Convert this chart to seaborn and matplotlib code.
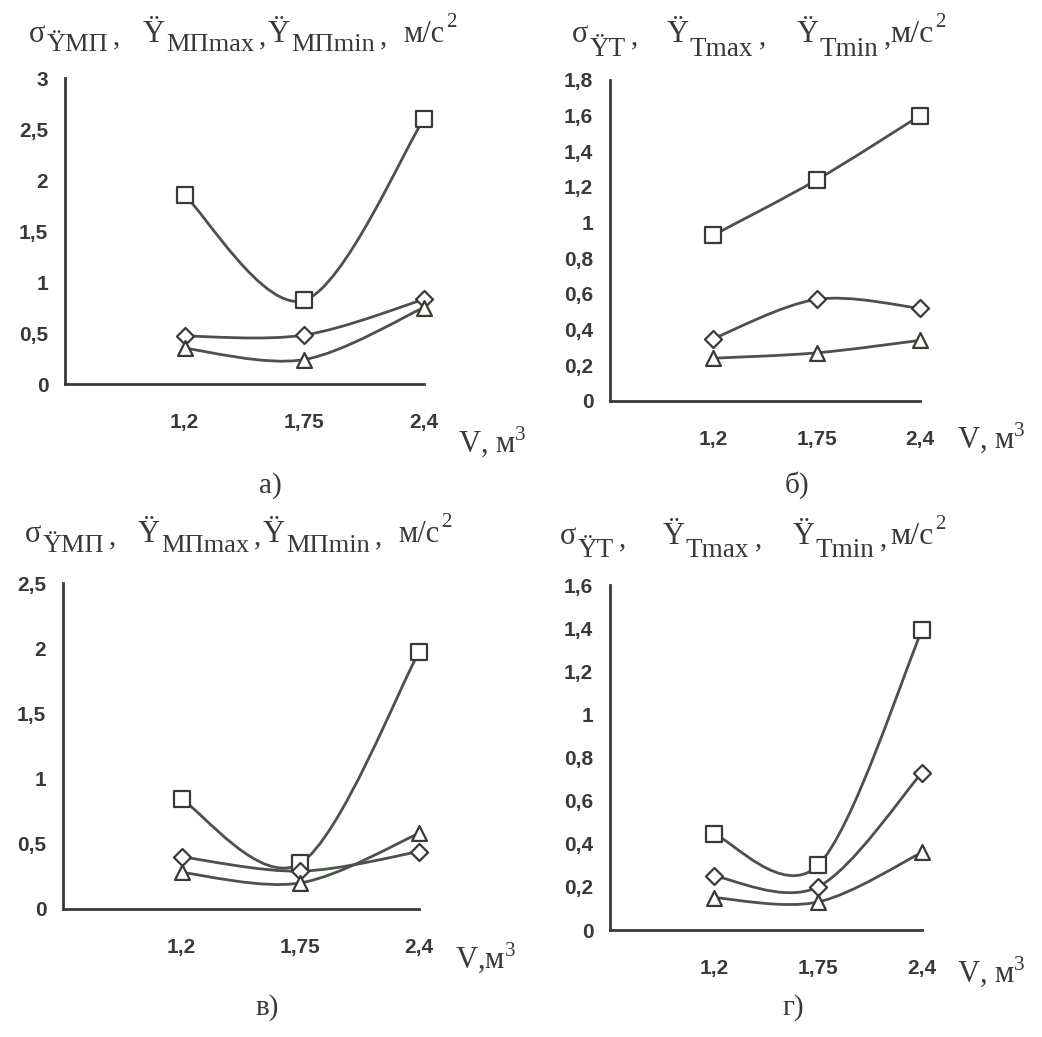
import numpy as np
import matplotlib
matplotlib.use('Agg')
import matplotlib.pyplot as plt
from matplotlib.path import Path
from matplotlib.patches import PathPatch
import seaborn as sns

sns.set_theme(style='white')
plt.rcParams['font.family'] = ['Liberation Sans', 'DejaVu Sans']
plt.rcParams['mathtext.fontset'] = 'custom'
plt.rcParams['mathtext.rm'] = 'Liberation Serif'

# V, m^3 categories (equally spaced on the chart)
volumes = ['1,2', '1,75', '2,4']

# panel a) - МП, max / sigma / min
a_max = [1.85, 0.82, 2.60]
a_sigma = [0.47, 0.48, 0.83]
a_min = [0.35, 0.24, 0.75]

# panel б) - T
b_max = [0.93, 1.24, 1.60]
b_sigma = [0.35, 0.57, 0.52]
b_min = [0.24, 0.27, 0.34]

# panel в) - МП
v_max = [0.84, 0.35, 1.97]
v_sigma = [0.40, 0.29, 0.44]
v_min = [0.28, 0.20, 0.58]

# panel г) - T
g_max = [0.445, 0.30, 1.39]
g_sigma = [0.25, 0.20, 0.73]
g_min = [0.15, 0.13, 0.36]

ink = '#363b34'
line_col = '#4b5249'
serif = 'Liberation Serif'

W, H = 1042, 1037


def fx(px):
    return px / W


def fy(py):
    return 1 - py / H


def smooth_path(xs, ys):
    # excel-style smoothed line: bezier segments through the points
    pts = np.column_stack([xs, ys]).astype(float)
    ext = np.vstack([pts[0], pts, pts[-1]])
    verts = [pts[0]]
    codes = [Path.MOVETO]
    for i in range(len(pts) - 1):
        p0, p1, p2, p3 = ext[i], ext[i + 1], ext[i + 2], ext[i + 3]
        verts += [p1 + (p2 - p0) / 6, p2 - (p3 - p1) / 6, p2]
        codes += [Path.CURVE4] * 3
    return Path(verts, codes)


def fmt(v):
    return f'{v:g}'.replace('.', ',')


def draw_panel(ax, series, ymax, ystep):
    pos = np.arange(1, len(volumes) + 1)
    for vals, marker, size in series:
        ax.add_patch(PathPatch(smooth_path(pos, vals), fill=False,
                               edgecolor=line_col, lw=2.0, zorder=2))
        sns.scatterplot(x=pos, y=vals, marker=marker, s=size, color='white',
                        edgecolor=ink, linewidth=1.6, zorder=3, clip_on=False,
                        ax=ax)
    ax.set_xlim(0, 3)
    ax.set_ylim(0, ymax)
    ax.set_xticks(np.arange(0, 4))
    ax.set_xticklabels([''] + volumes)
    yt = np.arange(0, ymax + ystep / 2, ystep)
    ax.set_yticks(yt)
    ax.set_yticklabels([fmt(round(v, 2)) for v in yt])
    for s in ['top', 'right']:
        ax.spines[s].set_visible(False)
    for s in ['left', 'bottom']:
        ax.spines[s].set_color(ink)
        ax.spines[s].set_linewidth(2.0)
    ax.tick_params(axis='x', direction='out', length=6, width=1.6, color=ink,
                   pad=15, labelsize=15, labelcolor=ink)
    ax.tick_params(axis='y', direction='out', length=4, width=1.4, color=ink,
                   pad=8, labelsize=15, labelcolor=ink)
    for lab in ax.get_xticklabels() + ax.get_yticklabels():
        lab.set_fontweight('bold')
    ax.set_facecolor('none')


fig = plt.figure(figsize=(W / 100, H / 100), dpi=100)
fig.patch.set_facecolor('white')
renderer = fig.canvas.get_renderer()


def put_text(x, base, txt, size):
    t = fig.text(fx(x), fy(base), txt, fontsize=size, va='baseline',
                 family=serif, color=ink)
    return t.get_window_extent(renderer).x1


def put_title(starts, base, sub_drop, subs, sub_size, unit_size=22):
    # main glyphs at their own x, subscript and comma chained right after
    mains = ['σ', 'Ÿ', 'Ÿ']
    for main, x0, sub in zip(mains, starts[:3], subs):
        x = put_text(x0, base, main, 22)
        x = put_text(x + 1, base + sub_drop, sub, sub_size)
        put_text(x + 5, base + 2, ',', 21)
    x = put_text(starts[3], base, 'м/с', unit_size)
    put_text(x + 2, base - 15, '2', 15)


panels = [
    # (left, right, top, bottom px), data, ymax, step
    ((65, 424, 78, 384), [(a_max, 's', 140), (a_sigma, 'D', 75), (a_min, '^', 115)], 3.0, 0.5),
    ((610, 920, 80, 401), [(b_max, 's', 140), (b_sigma, 'D', 75), (b_min, '^', 115)], 1.8, 0.2),
    ((63, 419, 583, 909), [(v_max, 's', 140), (v_sigma, 'D', 75), (v_min, '^', 115)], 2.5, 0.5),
    ((610, 922, 585, 930), [(g_max, 's', 140), (g_sigma, 'D', 75), (g_min, '^', 115)], 1.6, 0.2),
]

for (l, r, t, b), series, ymax, step in panels:
    ax = fig.add_axes([fx(l), fy(b), (r - l) / W, (b - t) / H])
    draw_panel(ax, series, ymax, step)

mp_subs = ['ŸМП', 'МПmax', 'МПmin']
t_subs = ['ŸT', 'Tmax', 'Tmin']
put_title([29, 143, 268, 403], 42, 9, mp_subs, 19)
put_title([572, 667, 797, 890], 42, 14, t_subs, 19.5, 23)
put_title([25, 138, 263, 398], 542, 10, mp_subs, 19)
put_title([560, 663, 793, 890], 544, 13, t_subs, 19.5, 23)

fig.text(fx(458), fy(452), r'V, м$^3$', fontsize=22, va='baseline', family=serif, color=ink)
fig.text(fx(957), fy(448), r'V, м$^3$', fontsize=22, va='baseline', family=serif, color=ink)
fig.text(fx(455), fy(968), r'V,м$^3$', fontsize=22, va='baseline', family=serif, color=ink)
fig.text(fx(957), fy(982), r'V, м$^3$', fontsize=22, va='baseline', family=serif, color=ink)

for lbl, x, y in [('а)', 270, 493), ('б)', 797, 493), ('в)', 267, 1015), ('г)', 793, 1015)]:
    fig.text(fx(x), fy(y), lbl, fontsize=21, ha='center', va='baseline',
             family=serif, color=ink)

fig.savefig('out.png', dpi=100, facecolor='white')
